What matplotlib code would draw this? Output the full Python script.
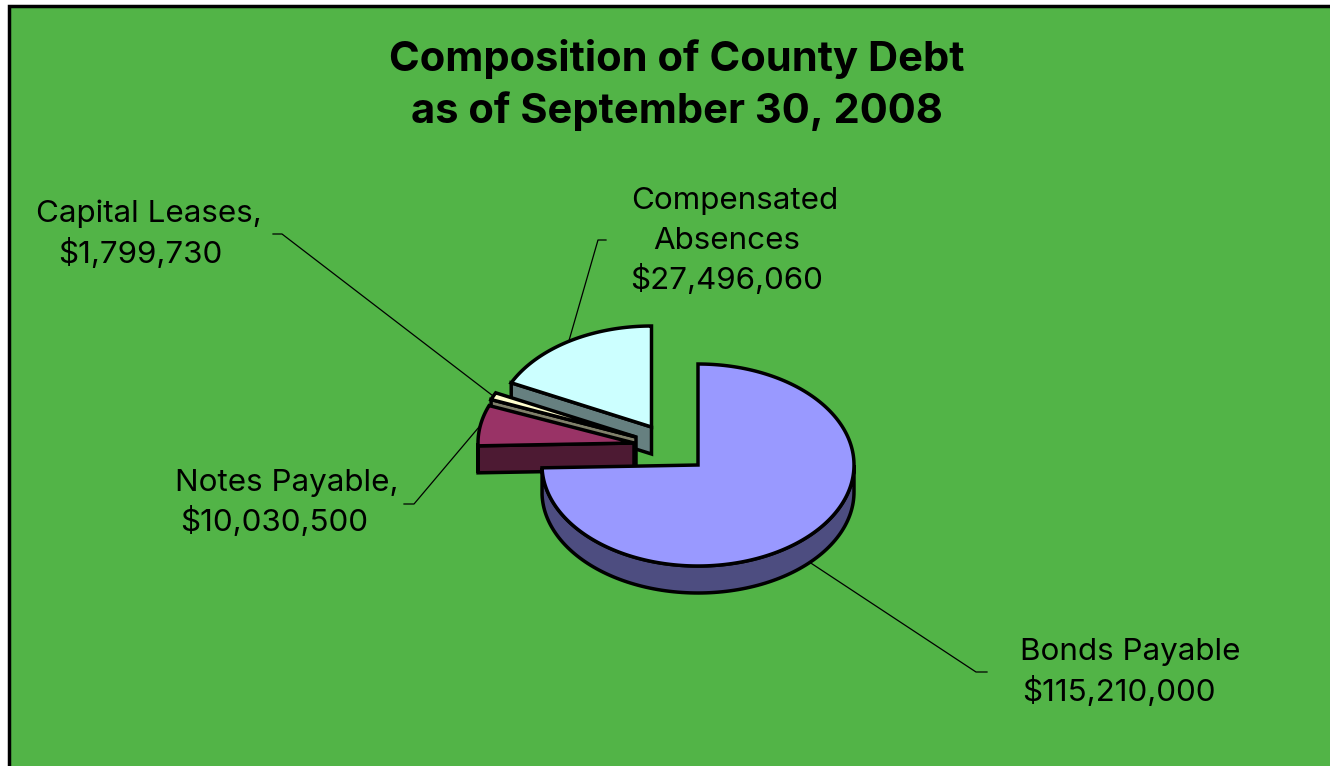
import numpy as np
import matplotlib
matplotlib.use("Agg")
import matplotlib.pyplot as plt
from matplotlib.patches import Polygon, Rectangle

# values in dollars, order is clockwise from 12 o'clock
names = ["Bonds Payable", "Notes Payable,", "Capital Leases,", "Compensated"]
values = [115210000, 10030500, 1799730, 27496060]
top_colors = ["#9999FF", "#993366", "#FFFFCC", "#CCFFFF"]
side_colors = ["#4D4D80", "#4D1A33", "#80806A", "#668080"]

GREEN = "#52B447"
RX, RY, DEPTH = 156, 101, 27
FONT = "Inter"
LABEL_PT = 22.6
TITLE_PT = 30

# exploded slice centres in pixels, same order as values
centers = [(698, 465), (634, 443), (636, 437), (651.5, 427)]


def ell(c, deg):
    t = np.radians(deg)
    return np.column_stack([c[0] + RX * np.sin(t), c[1] - RY * np.cos(t)])


def shifted(pts):
    return pts + np.array([0, DEPTH])


def draw_slice(ax, c, start, end, top, side):
    kw = dict(edgecolor="black", linewidth=2.5, joinstyle="miter")
    c_pt = np.array([c])
    # radial faces, only the ones that look down at the viewer
    if 180 < start % 360 < 360:
        a = np.vstack([c_pt, ell(c, start)])
        ax.add_patch(Polygon(np.vstack([a, shifted(a)[::-1]]), facecolor=side, **kw))
    if 0 < end % 360 < 180:
        a = np.vstack([c_pt, ell(c, end)])
        ax.add_patch(Polygon(np.vstack([a, shifted(a)[::-1]]), facecolor=side, **kw))
    # outer rim, front half only
    lo, hi = max(start, 90), min(end, 270)
    if hi > lo:
        arc = ell(c, np.linspace(lo, hi, 120))
        ax.add_patch(Polygon(np.vstack([arc, shifted(arc)[::-1]]), facecolor=side, **kw))
    arc = ell(c, np.linspace(start, end, 200))
    ax.add_patch(Polygon(np.vstack([c_pt, arc]), facecolor=top, **kw))


fig = plt.figure(figsize=(13.3, 7.66), dpi=100, facecolor="white")
ax = fig.add_axes([0, 0, 1, 1])
ax.set_xlim(0, 1330)
ax.set_ylim(766, 0)
ax.axis("off")

ax.add_patch(Rectangle((9, 6), 1340, 780, facecolor=GREEN, edgecolor="black", linewidth=2.5))

ax.text(677, 59, "Composition of County Debt", fontsize=TITLE_PT, fontweight="bold",
        family=FONT, ha="center", va="center")
ax.text(677, 111, "as of September 30, 2008", fontsize=TITLE_PT, fontweight="bold",
        family=FONT, ha="center", va="center")

edges = np.concatenate([[0], np.cumsum(values)]) / sum(values) * 360
mids = (edges[:-1] + edges[1:]) / 2

# leader lines run from the label elbow to the middle of each slice's rim
elbows = [
    [(987, 672), (976, 672)],
    [(404, 504), (414, 504)],
    [(273, 234), (282, 234)],
    [(606, 240), (598, 240)],
]
for i, path in enumerate(elbows):
    end = ell(centers[i], mids[i])[0]
    if i == 0:
        end = end + np.array([0, DEPTH])
    xs = [p[0] for p in path] + [end[0]]
    ys = [p[1] for p in path] + [end[1]]
    ax.plot(xs, ys, color="black", linewidth=0.9)

for i in [3, 2, 1, 0]:
    draw_slice(ax, centers[i], edges[i], edges[i + 1], top_colors[i], side_colors[i])

money = [f"${v:,}" for v in values]
label_lines = [
    (names[0], 1130, 652), (money[0], 1119, 692),
    (names[1], 287, 483), (money[1], 274, 522),
    (names[2], 149, 214), (money[2], 140, 253),
    (names[3], 735, 201), ("Absences", 727, 241), (money[3], 727, 280),
]
for txt, x, y in label_lines:
    ax.text(x, y, txt, fontsize=LABEL_PT, family=FONT, ha="center", va="center", color="black")

fig.savefig("out.png", dpi=100, facecolor="white")
